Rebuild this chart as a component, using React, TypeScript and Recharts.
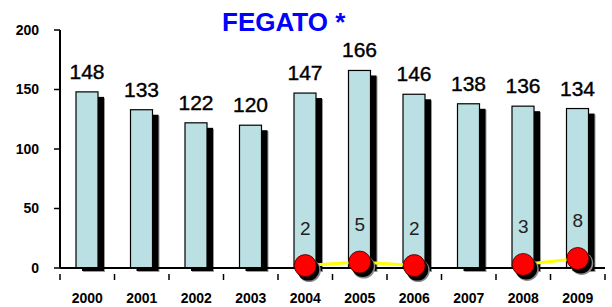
import React from 'react';
import {
  ComposedChart,
  Bar,
  Line,
  XAxis,
  YAxis,
  LabelList,
} from 'recharts';

const years = ['2000', '2001', '2002', '2003', '2004', '2005', '2006', '2007', '2008', '2009'];
const totals = [148, 133, 122, 120, 147, 166, 146, 138, 136, 134];
const marked: (number | null)[] = [null, null, null, null, 2, 5, 2, null, 3, 8];
const yTicks = [0, 50, 100, 150, 200];

const data = years.map((year, i) => ({ year, total: totals[i], marked: marked[i] }));

const FONT = '"Liberation Sans", Arial, sans-serif';

function ShadowBar(props: any) {
  const { x, y, width, height } = props;
  if (!height || height <= 0) return null;
  return (
    <g>
      <rect x={x + 7} y={y + 6} width={width} height={height - 2} fill='#9a9a9a' />
      <rect x={x + 6} y={y + 5} width={width} height={height - 2} fill='#000' />
      <rect x={x} y={y} width={width} height={height} fill='#bbe0e3' stroke='#000' strokeWidth={1.2} />
    </g>
  );
}

function RedDot(props: any) {
  const { cx, cy, value } = props;
  if (value == null || cx == null || cy == null) return null;
  return (
    <g>
      <circle cx={cx + 4} cy={cy + 5} r={11.5} fill='#8a8a8a' />
      <circle cx={cx + 3} cy={cy + 4} r={11} fill='#000' />
      <circle cx={cx} cy={cy} r={11} fill='#ff0000' stroke='#300' strokeWidth={0.8} />
    </g>
  );
}

function DotLabel(props: any) {
  const { x, y, value } = props;
  if (value == null) return null;
  return (
    <text x={x} y={y - 31} textAnchor='middle' fontFamily={FONT} fontSize={19} fill='#222'>
      {value}
    </text>
  );
}

function YearTick(props: any) {
  const { x, y, payload, index } = props;
  const half = payload && payload.offset ? payload.offset : 27.25;
  return (
    <g>
      {index === 0 && <line x1={x - half} y1={y - 2} x2={x - half} y2={y + 4} stroke='#000' strokeWidth={1.5} />}
      <line x1={x + half} y1={y - 2} x2={x + half} y2={y + 4} stroke='#000' strokeWidth={1.5} />
      <text x={x} y={y + 27} textAnchor='middle' fontFamily={FONT} fontSize={14} fontWeight='bold' fill='#000'>
        {payload.value}
      </text>
    </g>
  );
}

export default function App() {
  React.useEffect(() => {
    document.body.style.margin = '0';
  }, []);

  return (
    <div style={{ position: 'relative', width: 612, height: 307, background: '#fff' }}>
      <div
        style={{
          position: 'absolute',
          left: 222,
          top: 9,
          fontFamily: FONT,
          fontSize: 26,
          lineHeight: '26px',
          fontWeight: 'bold',
          color: '#0000ff',
          whiteSpace: 'nowrap',
        }}
      >
        FEGATO *
      </div>
      <ComposedChart
        width={612}
        height={307}
        data={data}
        margin={{ top: 30, right: 7, bottom: 9, left: 10 }}
        barCategoryGap='0%'
      >
        <XAxis
          dataKey='year'
          height={30}
          axisLine={{ stroke: '#000', strokeWidth: 2 }}
          tickLine={false}
          tick={<YearTick />}
          interval={0}
        />
        <YAxis
          width={50}
          domain={[0, 200]}
          ticks={yTicks}
          axisLine={{ stroke: '#000', strokeWidth: 2 }}
          tickLine={{ stroke: '#000', strokeWidth: 1.5 }}
          tickSize={6}
          tickMargin={15}
          tick={{ fontFamily: FONT, fontSize: 14, fontWeight: 'bold', fill: '#000' }}
        />
        <Bar dataKey='total' barSize={22} shape={<ShadowBar />} isAnimationActive={false}>
          <LabelList
            dataKey='total'
            position='top'
            offset={13}
            style={{ fontFamily: FONT, fontSize: 21, fill: '#000', stroke: '#000', strokeWidth: 0.4 }}
          />
        </Bar>
        <Line
          dataKey='marked'
          stroke='#ffff00'
          strokeWidth={3}
          connectNulls={false}
          dot={<RedDot />}
          activeDot={false}
          isAnimationActive={false}
        >
          <LabelList dataKey='marked' content={<DotLabel />} />
        </Line>
      </ComposedChart>
    </div>
  );
}
